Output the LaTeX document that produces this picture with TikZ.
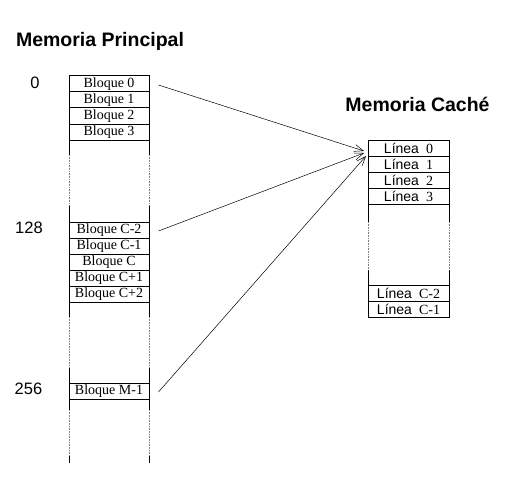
\documentclass[tikz,border=0pt]{standalone}
\usepackage{fontspec}
\setmainfont{Liberation Serif}
\newfontfamily\arial{Liberation Sans}
\usetikzlibrary{arrows.meta}

\begin{document}
\begin{tikzpicture}[x=1pt, y=-1pt,
    bloque/.style={rectangle, draw, line width=1pt, minimum width=80pt, minimum height=16pt, inner sep=0pt, font=\fontsize{14}{14}\selectfont},
    linea/.style={rectangle, draw, line width=1pt, minimum width=81pt, minimum height=16pt, inner sep=0pt, font=\fontsize{14}{14}\selectfont},
    titulo/.style={font=\arial\bfseries\fontsize{19.5}{20}\selectfont},
    dir/.style={font=\arial\fontsize{16.5}{17}\selectfont},
    lado/.style={line width=1pt},
    hueco/.style={densely dotted, gray, line width=0.6pt},
    flecha/.style={-{Straight Barb[length=9pt, width=7pt]}, line width=0.5pt}
]
    \useasboundingbox (0,0) rectangle (508,500);

    % Titles
    \node[titulo] (tmp) at (100,41) {Memoria Principal};
    \node[titulo] (tmc) at (417.5,104) {Memoria Caché};

    % Addresses
    \node[dir] (d0) at (35,83) {0};
    \node[dir] (d128) at (29,228) {128};
    \node[dir] (d256) at (28.5,389) {256};

    % Main memory blocks
    \node[bloque] (b0) at (109,84) {Bloque 0};
    \node[bloque] (b1) at (109,100) {Bloque 1};
    \node[bloque] (b2) at (109,116) {Bloque 2};
    \node[bloque] (b3) at (109,132) {Bloque 3};
    \node[bloque] (bc2) at (109,230) {Bloque C-2};
    \node[bloque] (bc1) at (109,246) {Bloque C-1};
    \node[bloque] (bc) at (109,262) {Bloque C};
    \node[bloque] (bcp1) at (109,278) {Bloque C+1};
    \node[bloque] (bcp2) at (109,294) {Bloque C+2};
    \node[bloque] (bm1) at (109,391) {Bloque M-1};

    % Main memory sides
    \foreach \x in {69,149} {
        \draw[lado] (\x,140) -- (\x,155) (\x,205) -- (\x,222);
        \draw[hueco] (\x,155) -- (\x,205);
        \draw[lado] (\x,302) -- (\x,317) (\x,367) -- (\x,383);
        \draw[hueco] (\x,317) -- (\x,367);
        \draw[lado] (\x,399) -- (\x,410) (\x,455) -- (\x,463);
        \draw[hueco] (\x,410) -- (\x,455);
    }

    % Cache lines
    \node[linea] (l0) at (408.5,148) {{\arial Línea}\ \ 0};
    \node[linea] (l1) at (408.5,164) {{\arial Línea}\ \ 1};
    \node[linea] (l2) at (408.5,180) {{\arial Línea}\ \ 2};
    \node[linea] (l3) at (408.5,196) {{\arial Línea}\ \ 3};
    \node[linea] (lc2) at (408.5,293) {{\arial Línea}\ \ C-2};
    \node[linea] (lc1) at (408.5,309) {{\arial Línea}\ \ C-1};

    % Cache sides
    \foreach \x in {368,449} {
        \draw[lado] (\x,204) -- (\x,222) (\x,270) -- (\x,285);
        \draw[hueco] (\x,222) -- (\x,270);
    }

    % Mapping arrows
    \coordinate (c0) at (364,151);
    \coordinate (c1) at (364,153);
    \coordinate (c2) at (366,156);
    \draw[flecha] ([xshift=9pt, yshift=-1pt]b0.east) -- (c0);
    \draw[flecha] ([xshift=9pt, yshift=-1pt]bc2.east) -- (c1);
    \draw[flecha] ([xshift=9pt, yshift=-1pt]bm1.east) -- (c2);
\end{tikzpicture}
\end{document}
